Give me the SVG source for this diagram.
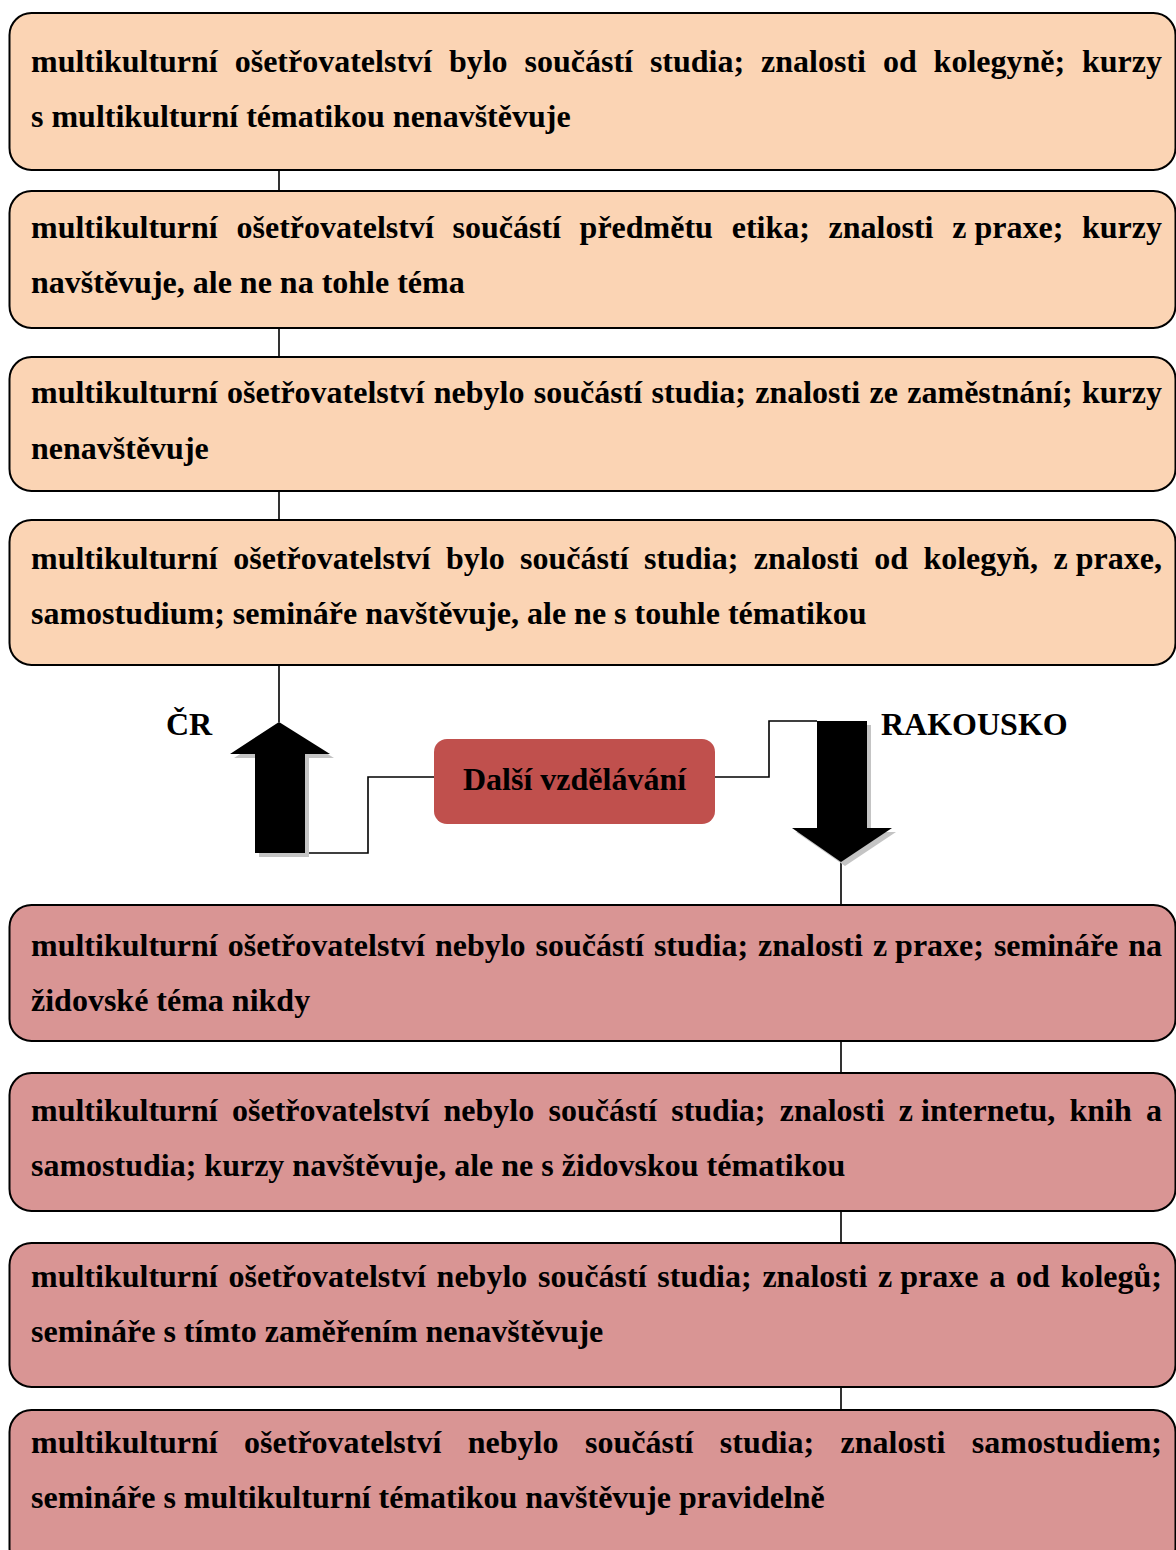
<svg xmlns="http://www.w3.org/2000/svg" width="1176" height="1550" viewBox="0 0 1176 1550">
  <style>
    text { font-family: "Liberation Serif", "Times New Roman", serif; font-weight: bold; font-size: 32px; fill: #000; }
    .cz { fill: #fbd4b4; stroke: #000; stroke-width: 2; }
    .at { fill: #d99594; stroke: #000; stroke-width: 2; }
    .hub { fill: #c0504d; }
    .wire { fill: none; stroke: #000; stroke-width: 1.6; }
    .arrow { fill: #000; }
    .shadow { fill: #c4c4c4; }
    .end { text-anchor: end; }
  </style>

  <!-- connectors -->
  <g id="connectors">
    <path class="wire" d="M279 170 V191 M279 328 V357 M279 491 V520 M279 665 V722"/>
    <path class="wire" d="M305 853 H368 V777 H434"/>
    <path class="wire" d="M715 777 H769 V721 H817"/>
    <path class="wire" d="M841 862 V905 M841 1041 V1073 M841 1211 V1243 M841 1387 V1410"/>
  </g>

  <!-- upward arrow (ČR) -->
  <g id="arrow-up">
    <polygon class="shadow" points="283,726 334,758 309,758 309,857 259,857 259,758 234,758"/>
    <polygon class="arrow" points="279,722 330,754 305,754 305,853 255,853 255,754 230,754"/>
  </g>

  <!-- downward arrow (RAKOUSKO) -->
  <g id="arrow-down">
    <polygon class="shadow" points="821,725 871,725 871,832 896,832 845,866 796,832 821,832"/>
    <polygon class="arrow" points="817,721 867,721 867,828 892,828 841,862 792,828 817,828"/>
  </g>

  <g id="label-cr"><text x="166" y="735">ČR</text></g>
  <g id="label-at"><text x="881" y="735">RAKOUSKO</text></g>

  <g id="hub">
    <rect class="hub" x="434" y="739" width="281" height="85" rx="13"/>
    <text x="574.5" y="790" text-anchor="middle">Další vzdělávání</text>
  </g>

  <!-- Czech respondents -->
  <g id="cz1">
    <rect class="cz" x="9.5" y="13" width="1166" height="157" rx="22"/>
    <text y="72"><tspan x="31">multikulturní</tspan><tspan x="234.7">ošetřovatelství</tspan><tspan x="448.9">bylo</tspan><tspan x="524.5">součástí</tspan><tspan x="649.9">studia;</tspan><tspan x="761">znalosti</tspan><tspan x="882.9">od</tspan><tspan x="933.6">kolegyně;</tspan></text>
    <text class="end" x="1162" y="72">kurzy</text>
    <text x="31" y="127">s multikulturní tématikou nenavštěvuje</text>
  </g>

  <g id="cz2">
    <rect class="cz" x="9.5" y="191" width="1166" height="137" rx="22"/>
    <text y="238"><tspan x="31">multikulturní</tspan><tspan x="236.5">ošetřovatelství</tspan><tspan x="452.5">součástí</tspan><tspan x="579.6">předmětu</tspan><tspan x="731.7">etika;</tspan><tspan x="828.6">znalosti</tspan><tspan x="952.3">z praxe;</tspan></text>
    <text class="end" x="1162" y="238">kurzy</text>
    <text x="31" y="293">navštěvuje, ale ne na tohle téma</text>
  </g>

  <g id="cz3">
    <rect class="cz" x="9.5" y="357" width="1166" height="134" rx="22"/>
    <text y="403"><tspan x="31">multikulturní</tspan><tspan x="227.1">ošetřovatelství</tspan><tspan x="433.8">nebylo</tspan><tspan x="533.8">součástí</tspan><tspan x="651.6">studia;</tspan><tspan x="755.2">znalosti</tspan><tspan x="869.5">ze</tspan><tspan x="907.3">zaměstnání;</tspan></text>
    <text class="end" x="1162" y="403">kurzy</text>
    <text x="31" y="459">nenavštěvuje</text>
  </g>

  <g id="cz4">
    <rect class="cz" x="9.5" y="520" width="1166" height="145" rx="22"/>
    <text y="569"><tspan x="31">multikulturní</tspan><tspan x="233.2">ošetřovatelství</tspan><tspan x="446">bylo</tspan><tspan x="520.1">součástí</tspan><tspan x="644.1">studia;</tspan><tspan x="753.8">znalosti</tspan><tspan x="874.2">od</tspan><tspan x="923.4">kolegyň,</tspan></text>
    <text class="end" x="1162" y="569">z praxe,</text>
    <text x="31" y="624">samostudium; semináře navštěvuje, ale ne s touhle tématikou</text>
  </g>

  <!-- Austrian respondents -->
  <g id="at1">
    <rect class="at" x="9.5" y="905" width="1166" height="136" rx="22"/>
    <text y="956"><tspan x="31">multikulturní</tspan><tspan x="227.7">ošetřovatelství</tspan><tspan x="434.9">nebylo</tspan><tspan x="535.5">součástí</tspan><tspan x="653.9">studia;</tspan><tspan x="758">znalosti</tspan><tspan x="872.9">z praxe;</tspan><tspan x="993.9">semináře</tspan></text>
    <text class="end" x="1162" y="956">na</text>
    <text x="31" y="1011">židovské téma nikdy</text>
  </g>

  <g id="at2">
    <rect class="at" x="9.5" y="1073" width="1166" height="138" rx="22"/>
    <text y="1121"><tspan x="31">multikulturní</tspan><tspan x="232">ošetřovatelství</tspan><tspan x="443.5">nebylo</tspan><tspan x="548.5">součástí</tspan><tspan x="671.2">studia;</tspan><tspan x="779.7">znalosti</tspan><tspan x="898.8">z internetu,</tspan><tspan x="1069.5">knih</tspan></text>
    <text class="end" x="1162" y="1121">a</text>
    <text x="31" y="1176">samostudia; kurzy navštěvuje, ale ne s židovskou tématikou</text>
  </g>

  <g id="at3">
    <rect class="at" x="9.5" y="1243" width="1166" height="144" rx="22"/>
    <text y="1287"><tspan x="31">multikulturní</tspan><tspan x="228.5">ošetřovatelství</tspan><tspan x="436.6">nebylo</tspan><tspan x="538.1">součástí</tspan><tspan x="657.3">studia;</tspan><tspan x="762.4">znalosti</tspan><tspan x="878.1">z praxe</tspan><tspan x="989.3">a</tspan><tspan x="1016.1">od</tspan></text>
    <text class="end" x="1162" y="1287">kolegů;</text>
    <text x="31" y="1342">semináře s tímto zaměřením nenavštěvuje</text>
  </g>

  <g id="at4">
    <rect class="at" x="9.5" y="1410" width="1166" height="160" rx="22"/>
    <text y="1453"><tspan x="31">multikulturní</tspan><tspan x="244.1">ošetřovatelství</tspan><tspan x="467.8">nebylo</tspan><tspan x="585">součástí</tspan><tspan x="719.8">studia;</tspan><tspan x="840.5">znalosti</tspan></text>
    <text class="end" x="1162" y="1453">samostudiem;</text>
    <text x="31" y="1508">semináře s multikulturní tématikou navštěvuje pravidelně</text>
  </g>
</svg>
